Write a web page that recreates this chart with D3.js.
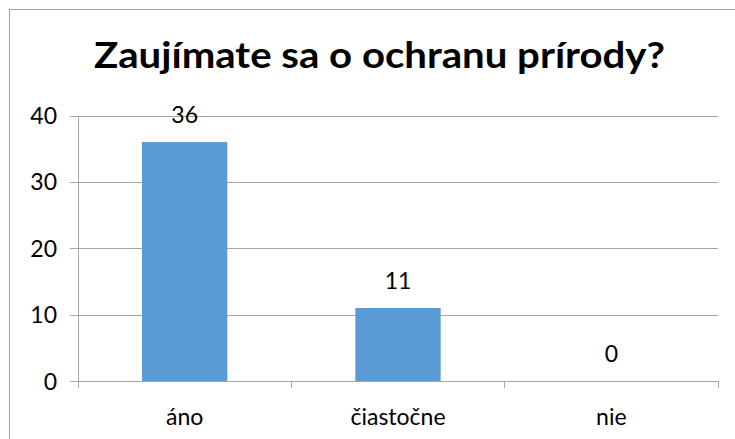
<!DOCTYPE html>
<html>
<head>
<meta charset="utf-8">
<script src="https://cdn.jsdelivr.net/npm/d3@7"></script>
<style>
  body { margin: 0; background: #fff; }
  text { font-family: Lato, "Open Sans", sans-serif; fill: #000; }
</style>
</head>
<body>
<div class="chart"></div>
<script>
// data
const categories = ["áno", "čiastočne", "nie"];
const values = [36, 11, 0];
const yTicks = [0, 10, 20, 30, 40];
const title = "Zaujímate sa o ochranu prírody?";

const W = 735, H = 439;
const margin = { top: 115.5, right: 17, bottom: 58, left: 78 };
const width = W - margin.left - margin.right,
  height = H - margin.top - margin.bottom;
const fontSize = "23px";

const root = d3.select(".chart").append("svg")
  .attr("width", W)
  .attr("height", H);

// outer frame (only left and top visible, rest runs off the page)
root.append("rect")
  .attr("x", 9.5).attr("y", 9.5)
  .attr("width", W + 20).attr("height", H + 20)
  .attr("fill", "#fff")
  .attr("stroke", "#a6a6a6");

root.append("text")
  .attr("x", 94)
  .attr("y", 68)
  .attr("textLength", 571)
  .attr("lengthAdjust", "spacingAndGlyphs")
  .style("font-size", "36px")
  .style("font-weight", "bold")
  .text(title);

const svg = root.append("g")
  .attr("transform", `translate(${margin.left}, ${margin.top})`);

const xScale = d3.scaleBand().domain(categories).range([0, width]).paddingInner(0).paddingOuter(0);
const yScale = d3.scaleLinear().domain([0, 40]).range([height, 0]);

// gridlines + y axis
svg.append("g").attr("class", "grid")
  .call(d3.axisLeft(yScale).tickValues(yTicks).tickSize(-width).tickFormat(""))
  .call(g => g.select(".domain").remove())
  .call(g => g.selectAll("line").attr("stroke", "#a6a6a6").attr("shape-rendering", "crispEdges"));

svg.append("g").attr("class", "y-axis")
  .call(d3.axisLeft(yScale).tickValues(yTicks).tickSize(8).tickPadding(13))
  .call(g => g.select(".domain").attr("stroke", "#a6a6a6").attr("shape-rendering", "crispEdges"))
  .call(g => g.selectAll("line").attr("stroke", "#a6a6a6").attr("shape-rendering", "crispEdges"))
  .call(g => g.selectAll("text").style("font-size", fontSize).attr("dy", "0.35em"));

// bars
const barW = xScale.bandwidth() * 0.4;
svg.selectAll(".bar")
  .data(values)
  .enter()
  .append("rect")
  .attr("class", "bar")
  .attr("x", (d, i) => xScale(categories[i]) + (xScale.bandwidth() - barW) / 2)
  .attr("y", d => yScale(d))
  .attr("width", barW)
  .attr("height", d => height - yScale(d))
  .style("fill", "#5b9bd5");

// data labels
svg.selectAll(".lbl")
  .data(values)
  .enter()
  .append("text")
  .attr("class", "lbl")
  .attr("x", (d, i) => xScale(categories[i]) + xScale.bandwidth() / 2)
  .attr("y", d => yScale(d) - 19)
  .attr("text-anchor", "middle")
  .style("font-size", fontSize)
  .text(d => d);

// x axis with ticks at category boundaries
const bounds = d3.range(categories.length + 1).map(i => i * xScale.bandwidth());
const xg = svg.append("g").attr("class", "x-axis")
  .attr("transform", `translate(0, ${height})`);
xg.append("line")
  .attr("x1", 0).attr("x2", width)
  .attr("stroke", "#a6a6a6").attr("shape-rendering", "crispEdges");
xg.selectAll(".tk").data(bounds).enter().append("line")
  .attr("x1", d => d).attr("x2", d => d)
  .attr("y1", 0).attr("y2", 7)
  .attr("stroke", "#a6a6a6").attr("shape-rendering", "crispEdges");
xg.selectAll(".cat").data(categories).enter().append("text")
  .attr("x", d => xScale(d) + xScale.bandwidth() / 2)
  .attr("y", 44)
  .attr("text-anchor", "middle")
  .style("font-size", fontSize)
  .text(d => d);
</script>
</body>
</html>
